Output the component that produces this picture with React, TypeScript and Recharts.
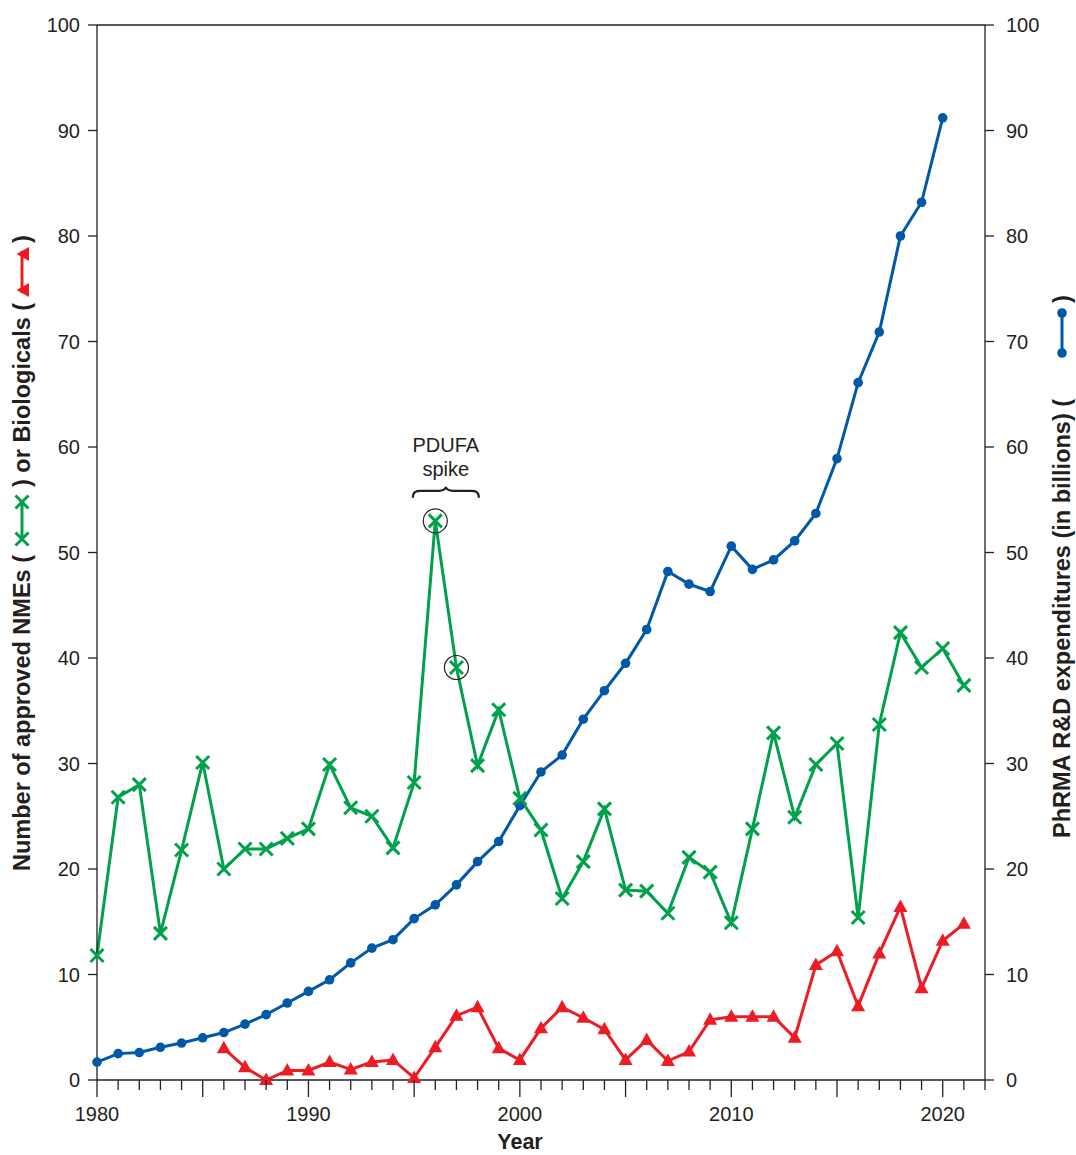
import React from 'react';
import { ComposedChart, Line, XAxis, YAxis, ReferenceLine, ReferenceDot, Customized } from 'recharts';

const years = [
  1980, 1981, 1982, 1983, 1984, 1985, 1986, 1987, 1988, 1989,
  1990, 1991, 1992, 1993, 1994, 1995, 1996, 1997, 1998, 1999,
  2000, 2001, 2002, 2003, 2004, 2005, 2006, 2007, 2008, 2009,
  2010, 2011, 2012, 2013, 2014, 2015, 2016, 2017, 2018, 2019,
  2020, 2021,
];

// approved new molecular entities (green)
const nmes = [
  11.8, 26.8, 28.0, 13.9, 21.8, 30.1, 20.0, 21.9, 21.9, 22.9,
  23.8, 29.9, 25.8, 25.0, 22.0, 28.2, 53.0, 39.1, 29.8, 35.1,
  26.7, 23.7, 17.2, 20.7, 25.7, 18.0, 17.9, 15.8, 21.1, 19.7,
  14.9, 23.8, 32.9, 24.9, 29.9, 31.9, 15.4, 33.7, 42.4, 39.1,
  40.9, 37.4,
];

// biologicals (red), series starts in 1986
const biologicals = [
  null, null, null, null, null, null, 3.0, 1.2, 0, 0.9,
  0.9, 1.7, 1.0, 1.7, 1.9, 0.2, 3.1, 6.1, 6.9, 3.0,
  1.9, 4.9, 6.9, 5.9, 4.8, 1.9, 3.8, 1.8, 2.7, 5.7,
  6.0, 6.0, 6.0, 4.0, 10.9, 12.2, 7.0, 12.0, 16.4, 8.7,
  13.2, 14.8,
];

// PhRMA R&D spend, billions (blue), ends 2020
const rndSpend = [
  1.7, 2.5, 2.6, 3.1, 3.5, 4.0, 4.5, 5.3, 6.2, 7.3,
  8.4, 9.5, 11.1, 12.5, 13.3, 15.3, 16.6, 18.5, 20.7, 22.6,
  26.0, 29.2, 30.8, 34.2, 36.9, 39.5, 42.7, 48.2, 47.0, 46.3,
  50.6, 48.4, 49.3, 51.1, 53.7, 58.9, 66.1, 70.9, 80.0, 83.2,
  91.2, null,
];

const yTicks = [0, 10, 20, 30, 40, 50, 60, 70, 80, 90, 100];
const xTicks = Array.from({ length: 43 }, (_, i) => 1980 + i);

const data = years.map((year, i) => ({
  year,
  nmes: nmes[i],
  bio: biologicals[i],
  rnd: rndSpend[i],
}));

const INK = '#231f20';
const GREEN = '#00a14b';
const RED = '#ed1c24';
const BLUE = '#0058a8';
const FONT = '"Liberation Sans", Arial, Helvetica, sans-serif';

const tickStyle = { fill: INK, fontSize: 20, fontFamily: FONT };

const XMark = ({ cx, cy, color = GREEN, s = 6.5 }: any) => {
  if (cx == null || cy == null) return null;
  return (
    <g stroke={color} strokeWidth={3}>
      <line x1={cx - s} y1={cy - s} x2={cx + s} y2={cy + s} />
      <line x1={cx - s} y1={cy + s} x2={cx + s} y2={cy - s} />
    </g>
  );
};

const Tri = ({ cx, cy, color = RED }: any) => {
  if (cx == null || cy == null) return null;
  return <path d={`M${cx},${cy - 7.5} L${cx - 7},${cy + 5} L${cx + 7},${cy + 5} Z`} fill={color} />;
};

const Dot = ({ cx, cy, color = BLUE }: any) => {
  if (cx == null || cy == null) return null;
  return <circle cx={cx} cy={cy} r={4.8} fill={color} />;
};

const YearTick = ({ x, y, payload }: any) => {
  const v = payload.value;
  const major = v % 5 === 0;
  return (
    <g>
      <line x1={x} x2={x} y1={y} y2={y + (major ? 17 : 10)} stroke={INK} strokeWidth={1.3} />
      {v % 10 === 0 && (
        <text x={x} y={y + 41} textAnchor="middle" {...tickStyle}>{v}</text>
      )}
    </g>
  );
};

const Brace = ({ cx, cy }: any) => {
  // cx, cy = the 1996 peak; brace and text sit above it
  const by = cy - 34;
  const d = `M${cx - 33},${by + 11} C${cx - 33},${by + 5} ${cx - 30},${by + 4} ${cx - 25},${by + 4} L${cx - 7},${by + 4} C${cx - 3},${by + 4} ${cx},${by + 2} ${cx},${by} C${cx},${by + 2} ${cx + 3},${by + 4} ${cx + 7},${by + 4} L${cx + 25},${by + 4} C${cx + 30},${by + 4} ${cx + 33},${by + 5} ${cx + 33},${by + 11}`;
  return (
    <g>
      <path d={d} fill="none" stroke={INK} strokeWidth={2.2} />
      <text x={cx} y={cy - 69} textAnchor="middle" fill={INK} fontSize={20} fontFamily={FONT}>PDUFA</text>
      <text x={cx} y={cy - 45} textAnchor="middle" fill={INK} fontSize={20} fontFamily={FONT}>spike</text>
    </g>
  );
};

const titleStyle = { fill: INK, fontSize: 23.5, fontWeight: 700, fontFamily: FONT };

// axis titles with small legend glyphs inside them, rotated to read bottom-to-top
const Titles = () => (
  <g>
    <g transform="translate(30, 871) rotate(-90)">
      <text x={0} y={0} {...titleStyle}>Number of approved NMEs (</text>
      <g>
        <line x1={330} y1={-8} x2={370} y2={-8} stroke={GREEN} strokeWidth={3} />
        <XMark cx={332} cy={-8} />
        <XMark cx={369} cy={-8} />
      </g>
      <text x={384} y={0} {...titleStyle}>) or Biologicals (</text>
      <g>
        <line x1={578} y1={-8} x2={620} y2={-8} stroke={RED} strokeWidth={3} />
        <Tri cx={581} cy={-6} />
        <Tri cx={617} cy={-6} />
      </g>
      <text x={628} y={0} {...titleStyle}>)</text>
    </g>
    <g transform="translate(1070, 838) rotate(-90)">
      <text x={0} y={0} {...titleStyle}>PhRMA R&amp;D expenditures (in billions) (</text>
      <g>
        <line x1={484} y1={-8} x2={526} y2={-8} stroke={BLUE} strokeWidth={3} />
        <Dot cx={485} cy={-8} />
        <Dot cx={525} cy={-8} />
      </g>
      <text x={535} y={0} {...titleStyle}>)</text>
    </g>
    <text x={520} y={1149} textAnchor="middle" fill={INK} fontSize={21.5} fontWeight={700} fontFamily={FONT}>Year</text>
  </g>
);

export default function App() {
  return (
    <div style={{ position: 'absolute', left: 0, top: 0, width: 1076, height: 1155, background: '#fff' }}>
      <ComposedChart width={1076} height={1155} data={data} margin={{ top: 25, right: 0, bottom: 0, left: 0 }}>
        <XAxis
          dataKey="year"
          type="number"
          domain={[1980, 2022]}
          ticks={xTicks}
          interval={0}
          height={75}
          tickSize={0}
          tickMargin={0}
          tickLine={false}
          axisLine={{ stroke: INK, strokeWidth: 1.3 }}
          tick={<YearTick />}
        />
        <YAxis
          yAxisId="left"
          orientation="left"
          domain={[0, 100]}
          ticks={yTicks}
          interval={0}
          width={97}
          tickSize={9}
          tickMargin={8}
          axisLine={{ stroke: INK, strokeWidth: 1.3 }}
          tickLine={{ stroke: INK, strokeWidth: 1.3 }}
          tick={tickStyle}
        />
        <YAxis
          yAxisId="right"
          orientation="right"
          domain={[0, 100]}
          ticks={yTicks}
          interval={0}
          width={91}
          tickSize={9}
          tickMargin={12}
          axisLine={{ stroke: INK, strokeWidth: 1.3 }}
          tickLine={{ stroke: INK, strokeWidth: 1.3 }}
          tick={tickStyle}
        />
        <ReferenceLine yAxisId="left" y={100} stroke={INK} strokeWidth={1.3} />

        <Line
          yAxisId="right"
          type="linear"
          dataKey="rnd"
          stroke={BLUE}
          strokeWidth={3}
          dot={(p: any) => <Dot key={`b${p.index}`} cx={p.cx} cy={p.cy} />}
          activeDot={false}
          isAnimationActive={false}
        />
        <Line
          yAxisId="left"
          type="linear"
          dataKey="nmes"
          stroke={GREEN}
          strokeWidth={3}
          dot={(p: any) => <XMark key={`g${p.index}`} cx={p.cx} cy={p.cy} />}
          activeDot={false}
          isAnimationActive={false}
        />
        <Line
          yAxisId="left"
          type="linear"
          dataKey="bio"
          stroke={RED}
          strokeWidth={3}
          dot={(p: any) => <Tri key={`r${p.index}`} cx={p.cx} cy={p.cy} />}
          activeDot={false}
          isAnimationActive={false}
        />

        {/* PDUFA annotation */}
        <ReferenceDot yAxisId="left" x={1996} y={nmes[16]} r={12} fill="none" stroke={INK} strokeWidth={1.2} />
        <ReferenceDot yAxisId="left" x={1997} y={nmes[17]} r={12} fill="none" stroke={INK} strokeWidth={1.2} />
        <ReferenceDot yAxisId="left" x={1996.5} y={nmes[16]} r={0} shape={(p: any) => <Brace cx={p.cx} cy={p.cy} />} />

        <Customized component={<Titles />} />
      </ComposedChart>
    </div>
  );
}
